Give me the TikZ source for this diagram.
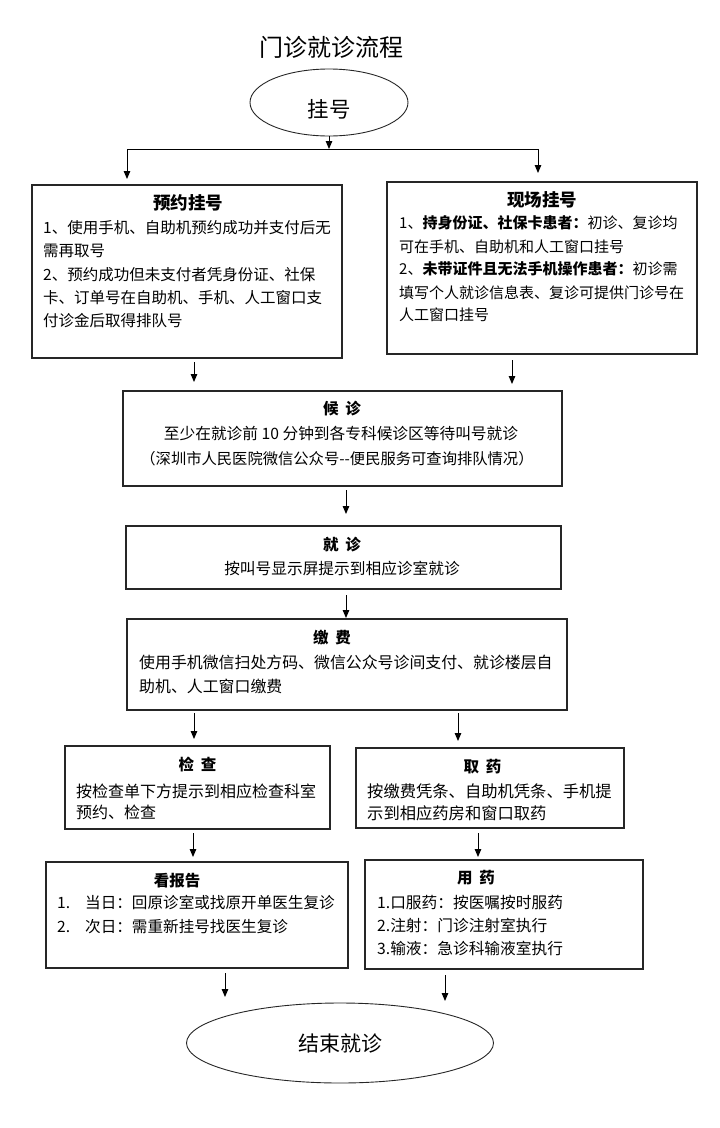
\documentclass[tikz,border=0pt]{standalone}
\usepackage{fontspec}
\setmainfont{Noto Sans CJK SC}
\usetikzlibrary{arrows.meta,shapes.geometric}
\newcommand{\fsz}[1]{\fontsize{#1pt}{#1pt}\selectfont}
\newcommand{\gap}{\hspace{0.45em}}
\begin{document}
\begin{tikzpicture}[x=1pt,y=-1pt,
  box/.style={draw=black!85, line width=1.1pt, rectangle, inner sep=0pt},
  oval/.style={draw=black!85, line width=0.9pt, ellipse, inner sep=0pt},
  arr/.style={line width=1pt, -{Triangle[length=8pt,width=6.5pt]}},
  ln/.style={line width=1pt},
  tl/.style={inner sep=0pt, anchor=base west},
  tc/.style={inner sep=0pt, anchor=base},
  hd/.style={inner sep=0pt, anchor=base, font=\fsz{15.5}\bfseries}]
\useasboundingbox (0,0) rectangle (720,1128);

% title
\node[tc, font=\fsz{24}] (title) at (331,56.6) {门诊就诊流程};

% start ellipse
\node[oval, minimum width=158pt, minimum height=67pt] (gh) at (329,102.5) {};
\node[tc, font=\fsz{21.5}] (ghT) at (329,117.2) {挂号};

% boxes
\node[box, minimum width=310pt, minimum height=173pt] (yy) at (187,271.5) {};
\node[box, minimum width=310pt, minimum height=172pt] (xc) at (542,268) {};
\node[box, minimum width=439pt, minimum height=95pt] (hz) at (342.5,438.5) {};
\node[box, minimum width=435pt, minimum height=63pt] (jz) at (343.5,557.5) {};
\node[box, minimum width=440pt, minimum height=91pt] (jf) at (347,664.5) {};
\node[box, minimum width=265pt, minimum height=83pt] (jc) at (197.5,787.5) {};
\node[box, minimum width=268pt, minimum height=80pt] (qy) at (490,788) {};
\node[box, minimum width=302pt, minimum height=106pt] (kbg) at (197,915) {};
\node[box, minimum width=278pt, minimum height=109pt] (yyao) at (504,914.5) {};
\node[oval, minimum width=307pt, minimum height=80pt] (end) at (340,1043) {};
\node[tc, font=\fsz{21}] (endT) at (340,1051) {结束就诊};

% texts: 预约挂号
\node[tc, font=\fsz{17.5}\bfseries] (yyH) at (188,209.6) {预约挂号};
\begin{scope}[every node/.append style={font=\fsz{15.5}}]
\node[tl] (yy1) at (43,233.9) {1、使用手机、自助机预约成功并支付后无};
\node[tl] (yy2) at (43,256.9) {需再取号};
\node[tl] (yy3) at (43,280.9) {2、预约成功但未支付者凭身份证、社保};
\node[tl] (yy4) at (43,303.9) {卡、订单号在自助机、手机、人工窗口支};
\node[tl] (yy5) at (43,326.9) {付诊金后取得排队号};
\end{scope}

% 现场挂号
\node[tc, font=\fsz{17.5}\bfseries] (xcH) at (542,206.6) {现场挂号};
\begin{scope}[every node/.append style={font=\fsz{15}}]
\node[tl] (xc1) at (399,228.7) {1、\textbf{持身份证、社保卡患者：}初诊、复诊均};
\node[tl] (xc2) at (399,252.7) {可在手机、自助机和人工窗口挂号};
\node[tl] (xc3) at (399,274.7) {2、\textbf{未带证件且无法手机操作患者：}初诊需};
\node[tl] (xc4) at (399,298.7) {填写个人就诊信息表、复诊可提供门诊号在};
\node[tl] (xc5) at (399,320.7) {人工窗口挂号};
\end{scope}

% 候诊
\node[hd] (hzH) at (342,414.9) {候\gap 诊};
\node[tc, font=\fsz{15.7}] (hz1) at (341,439) {至少在就诊前 10 分钟到各专科候诊区等待叫号就诊};
\node[tc, font=\fsz{15.3}] (hz2) at (337,464) {（深圳市人民医院微信公众号-{}-便民服务可查询排队情况）};

% 就诊
\node[hd] (jzH) at (342,550.9) {就\gap 诊};
\node[tc, font=\fsz{15.7}] (jz1) at (342,574) {按叫号显示屏提示到相应诊室就诊};

% 缴费
\node[hd] (jfH) at (332,643.9) {缴\gap 费};
\node[tl, font=\fsz{15.9}] (jf1) at (139,668) {使用手机微信扫处方码、微信公众号诊间支付、就诊楼层自};
\node[tl, font=\fsz{15.9}] (jf2) at (139,692) {助机、人工窗口缴费};

% 检查
\node[hd] (jcH) at (197.5,770.9) {检\gap 查};
\node[tl, font=\fsz{16}] (jc1) at (76,797.1) {按检查单下方提示到相应检查科室};
\node[tl, font=\fsz{16}] (jc2) at (76,818.1) {预约、检查};

% 取药
\node[hd] (qyH) at (482.5,772.9) {取\gap 药};
\node[tl, font=\fsz{16.3}] (qy1) at (367,797.2) {按缴费凭条、自助机凭条、手机提};
\node[tl, font=\fsz{16.3}] (qy2) at (367,819.2) {示到相应药房和窗口取药};

% 看报告
\node[hd] (kbgH) at (177,886.9) {看报告};
\node[tl, font=\fsz{15.6}] (kbg1) at (57,908.9) {\makebox[28pt][l]{1.}当日：回原诊室或找原开单医生复诊};
\node[tl, font=\fsz{15.6}] (kbg2) at (57,932.9) {\makebox[28pt][l]{2.}次日：需重新挂号找医生复诊};

% 用药
\node[hd] (yyaoH) at (476,883.9) {用\gap 药};
\node[tl, font=\fsz{15.7}] (yyao1) at (377,908) {1.口服药：按医嘱按时服药};
\node[tl, font=\fsz{15.7}] (yyao2) at (377,931) {2.注射：门诊注射室执行};
\node[tl, font=\fsz{15.7}] (yyao3) at (377,954) {3.输液：急诊科输液室执行};

% connector coordinates
\coordinate (split) at (gh.south |- 0,149);
\coordinate (hl) at (127,149);
\coordinate (hr) at (538,149);
\coordinate (hlT) at (127,179);
\coordinate (hrT) at (538,173);
\coordinate (a1s) at (194,362); \coordinate (a1e) at (194,382);
\coordinate (a2s) at (512,360); \coordinate (a2e) at (512,384);
\coordinate (a3s) at (346,490); \coordinate (a3e) at (346,514);
\coordinate (a4s) at (346,595); \coordinate (a4e) at (346,618);
\coordinate (a5s) at (194,713); \coordinate (a5e) at (194,739);
\coordinate (a6s) at (458,713); \coordinate (a6e) at (458,741);
\coordinate (a7s) at (193,833); \coordinate (a7e) at (193,857);
\coordinate (a8s) at (478,833); \coordinate (a8e) at (478,857);
\coordinate (a9s) at (225,973); \coordinate (a9e) at (225,997);
\coordinate (a10s) at (445,975); \coordinate (a10e) at (445,1001);

% connectors
\draw[arr] (gh.south) -- (split);
\draw[ln] (hl) -- (hr);
\draw[arr] (hl) -- (hlT);
\draw[arr] (hr) -- (hrT);
\foreach \i in {1,...,10} {\draw[arr] (a\i s) -- (a\i e);}
\end{tikzpicture}
\end{document}
